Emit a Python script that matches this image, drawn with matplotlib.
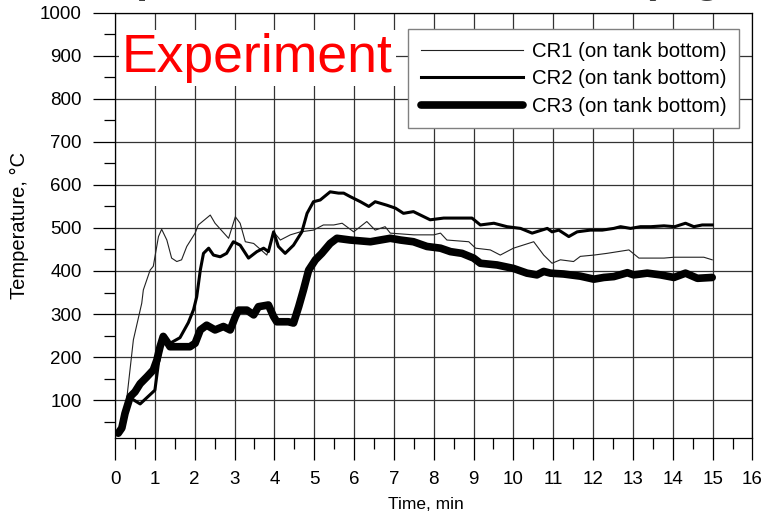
import matplotlib
matplotlib.use("Agg")
import matplotlib.pyplot as plt
from matplotlib.ticker import MultipleLocator

plt.rcParams['font.family'] = ['Liberation Sans', 'DejaVu Sans']

# CR1 thermocouple (thin line)
cr1_t = [0.10, 0.17, 0.29, 0.46, 0.67, 0.71, 0.88, 0.96, 1.09, 1.17, 1.30, 1.42,
         1.55, 1.67, 1.80, 2.01, 2.09, 2.39, 2.51, 2.85, 3.02, 3.14, 3.27, 3.48,
         3.81, 3.98, 4.15, 4.40, 4.65, 4.98, 5.23, 5.49, 5.70, 5.99, 6.32, 6.53,
         6.78, 6.91, 7.50, 8.00, 8.17, 8.33, 8.88, 9.05, 9.42, 9.67, 10.00, 10.51,
         10.76, 10.97, 11.18, 11.51, 11.68, 12.02, 12.35, 12.90, 13.15, 13.78,
         14.03, 14.78, 14.99]
cr1_v = [25, 45, 100, 240, 325, 356, 402, 411, 480, 497, 472, 430,
         422, 426, 457, 488, 507, 530, 511, 476, 526, 511, 468, 464,
         437, 491, 472, 484, 491, 495, 507, 507, 511, 491, 515, 495,
         503, 488, 484, 484, 488, 472, 468, 453, 449, 437, 453, 468,
         437, 418, 426, 422, 434, 437, 441, 449, 430, 430,
         432, 432, 426]

# CR2 thermocouple (medium line)
cr2_t = [0.10, 0.17, 0.33, 0.63, 1.00, 1.09, 1.21, 1.38, 1.63, 1.84, 1.97, 2.05,
         2.14, 2.22, 2.35, 2.47, 2.64, 2.80, 2.97, 3.14, 3.35, 3.56, 3.73, 3.85,
         3.98, 4.10, 4.27, 4.48, 4.69, 4.82, 4.98, 5.15, 5.40, 5.61, 5.74, 5.90,
         6.16, 6.37, 6.53, 6.82, 7.04, 7.24, 7.49, 7.91, 8.25, 8.58, 8.96, 9.17,
         9.51, 9.84, 10.18, 10.47, 10.85, 10.97, 11.14, 11.39, 11.60, 11.93,
         12.23, 12.52, 12.69, 12.94, 13.19, 13.45, 13.78, 14.05, 14.32, 14.53,
         14.74, 14.99]
cr2_v = [25, 45, 108, 91, 123, 186, 248, 232, 245, 280, 310, 340,
         402, 441, 453, 437, 433, 441, 468, 460, 430, 445, 453, 445,
         491, 457, 441, 460, 491, 534, 561, 565, 584, 581, 581, 573,
         561, 550, 561, 553, 546, 534, 538, 519, 523, 523, 523, 507,
         511, 503, 499, 488, 499, 491, 495, 480, 491, 495,
         495, 499, 503, 499, 503, 503, 505, 503, 511, 503,
         507, 507]

# CR3 thermocouple (thick line)
cr3_t = [0.08, 0.17, 0.25, 0.38, 0.50, 0.63, 0.80, 0.96, 1.05, 1.13, 1.21, 1.30,
         1.38, 1.63, 1.88, 2.01, 2.14, 2.30, 2.51, 2.72, 2.89, 3.02, 3.10, 3.31,
         3.48, 3.60, 3.85, 3.98, 4.06, 4.35, 4.48, 4.61, 4.73, 4.86, 5.03, 5.19,
         5.40, 5.57, 5.90, 6.41, 6.91, 7.16, 7.49, 7.83, 8.17, 8.42, 8.71, 9.00,
         9.17, 9.59, 10.00, 10.34, 10.59, 10.76, 10.93, 11.26, 11.68, 12.02,
         12.27, 12.52, 12.86, 13.02, 13.36, 13.69, 14.03, 14.32, 14.62, 14.99]
cr3_v = [23, 35, 69, 108, 119, 138, 154, 170, 193, 224, 248, 236,
         224, 224, 224, 232, 263, 274, 263, 271, 263, 294, 309, 309,
         298, 317, 321, 294, 282, 282, 279, 317, 356, 402, 426, 441,
         464, 476, 472, 468, 476, 472, 468, 457, 453, 445, 441, 430,
         418, 414, 406, 395, 391, 399, 395, 393, 388, 381,
         385, 387, 396, 391, 395, 391, 385, 395, 383, 385]

labels = ['CR1 (on tank bottom)', 'CR2 (on tank bottom)', 'CR3 (on tank bottom)']

fig = plt.figure(figsize=(7.67, 5.14), dpi=100)
ax = fig.add_axes([0.150, 0.148, 0.831, 0.827])

ax.plot(cr1_t, cr1_v, color='#222222', lw=0.8, label=labels[0])
ax.plot(cr2_t, cr2_v, color='black', lw=2.2, label=labels[1])
ax.plot(cr3_t, cr3_v, color='black', lw=5.5, solid_capstyle='round',
        solid_joinstyle='round', label=labels[2])

ax.set_xlim(0, 16)
ax.set_ylim(12, 1000)
ax.xaxis.set_major_locator(MultipleLocator(1))
ax.xaxis.set_minor_locator(MultipleLocator(0.5))
ax.set_yticks(range(100, 1001, 100))
ax.yaxis.set_minor_locator(MultipleLocator(50))
ax.grid(True, which='major', color='#333333', lw=0.9)
ax.set_axisbelow(True)
ax.tick_params(which='major', direction='out', length=16, width=0.9,
               labelsize=13.5, pad=8, top=False, right=False)
ax.tick_params(which='minor', direction='out', length=8, width=0.9,
               top=False, right=False)
for s in ax.spines.values():
    s.set_linewidth(0.9)

ax.set_xlabel('Time, min', fontsize=12.5, labelpad=6)
ax.xaxis.label.set_x(0.488)
ax.set_ylabel('Temperature, °C', fontsize=14.5, labelpad=8)

ax.text(0.011, 0.861, 'Experiment', transform=ax.transAxes, fontsize=38.5,
        color='red', va='baseline', ha='left',
        bbox=dict(facecolor='white', edgecolor='none', pad=2), zorder=5)

leg = ax.legend(loc='upper left', bbox_to_anchor=(0.46, 0.962), fontsize=14.7,
                handlelength=5.0, handletextpad=0.45, labelspacing=0.42,
                borderpad=0.62, borderaxespad=0, fancybox=False, framealpha=1,
                edgecolor='#808080')
leg.get_frame().set_linewidth(1.0)
leg.set_zorder(6)

# heading, mostly above the top edge of the canvas
fig.text(51 / 767, 1 + 8 / 514, 'Temperature on tank bottom (Fig. 2)',
         fontsize=31, fontweight='bold', color='#3c3c3c',
         ha='left', va='baseline')

fig.savefig('out.png', dpi=100)
